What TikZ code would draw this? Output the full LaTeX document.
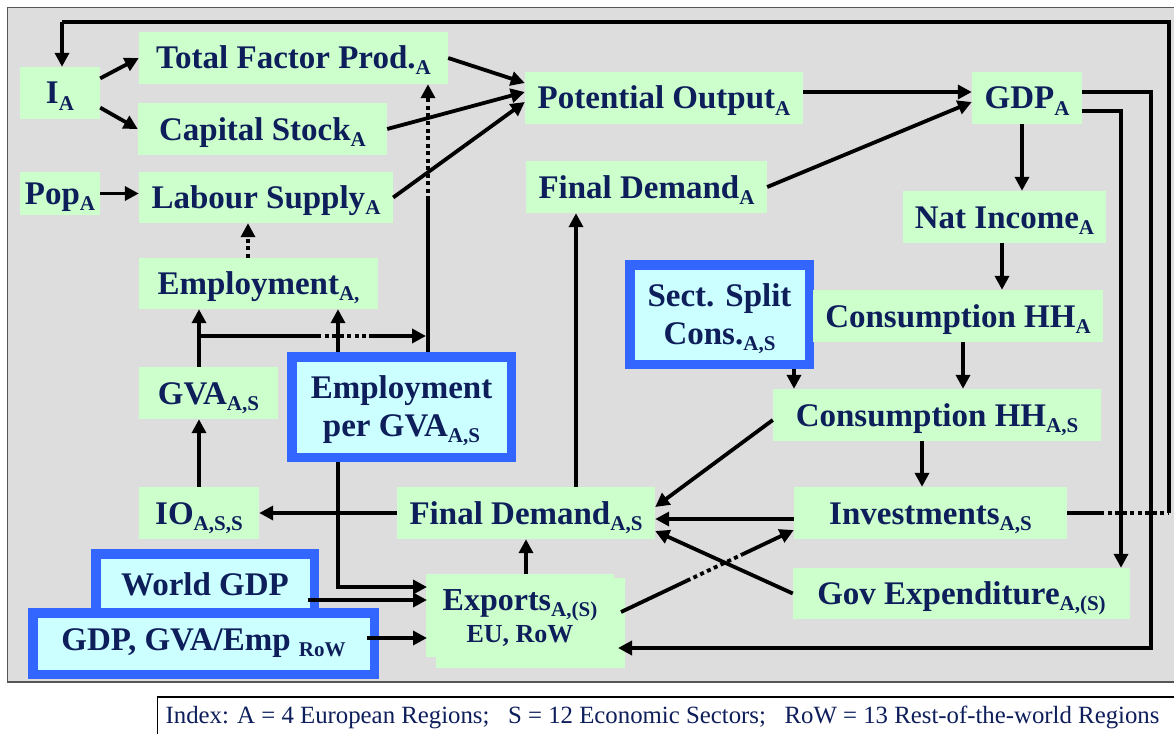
\documentclass[tikz,border=0pt]{standalone}
\usepackage{fontspec}
\setmainfont{Liberation Serif}
\usetikzlibrary{arrows.meta,calc}
\definecolor{navy}{HTML}{0D1E5B}
\definecolor{boxgreen}{HTML}{CCFFCC}
\definecolor{boxcyan}{HTML}{CCFFFF}
\definecolor{frameblue}{HTML}{3366FF}
\definecolor{panelgray}{HTML}{DDDDDD}
\definecolor{paneledge}{HTML}{555555}
% index subscript, kept out of the line's height and depth
\newcommand\ix[1]{\raisebox{-6pt}[0pt][0pt]{\fontsize{21}{21}\selectfont #1}}
\newcommand\bxfont{\fontsize{33}{38}\selectfont\bfseries}
\begin{document}
\begin{tikzpicture}[x=1pt,y=-1pt,
  gbox/.style={fill=boxgreen, text=navy, font=\bxfont, inner sep=0pt, align=center,
               text height=23pt, text depth=1pt},
  exbox/.style={fill=boxgreen, inner sep=0pt},
  bbox/.style={draw=frameblue, line width=9.5pt, fill=boxcyan, text=navy, font=\bxfont,
               inner sep=0pt, outer sep=4.75pt, align=center},
  link/.style={line width=3.8pt, draw=black},
  arr/.style={link, -{Triangle[length=14pt,width=14pt]}},
  dots/.style={link, dash pattern=on 4pt off 3.5pt},
  darr/.style={arr, dash pattern=on 4pt off 3.5pt}]
\useasboundingbox (0,0) rectangle (1174,733);

% background panel
\draw[fill=panelgray, draw=paneledge, line width=1.5pt] (7.5,7.5) rectangle (1185,682);

% legend (its right and bottom sides run past the page edge)
\node[draw=black, line width=1.2pt, fill=white, minimum height=40,
      inner xsep=8pt, inner ysep=0pt, text=navy,
      font=\fontsize{24.8}{26}\selectfont, anchor=west]
  (legend) at (157,717)
  {Index: A = 4 European Regions;~~~S = 12 Economic Sectors;~~~RoW = 13 Rest-of-the-world Regions\rule{40pt}{0pt}};

% model blocks
\node[gbox, minimum width=80,  minimum height=52] (ia)   at (60,93)      {I\ix{A}};
\node[gbox, minimum width=309, minimum height=52] (tfp)  at (293.5,58)   {Total Factor Prod.\ix{A}};
\node[gbox, minimum width=249, minimum height=52] (cap)  at (262.5,129)  {Capital Stock\ix{A}};
\node[gbox, minimum width=80,  minimum height=43] (pop)  at (60,193.5)   {Pop\ix{A}};
\node[gbox, minimum width=254, minimum height=51] (lab)  at (266,197.5)  {Labour Supply\ix{A}};
\node[gbox, minimum width=239, minimum height=51] (emp)  at (258.5,283.5){Employment\ix{A,}};
\node[gbox, minimum width=139, minimum height=52] (gva)  at (208.5,393)  {GVA\ix{A,S}};
\node[bbox, minimum width=219.5, minimum height=100.5] (epg) at (401.5,407)
  {\rule{0pt}{29pt}Employment\\per GVA\ix{A,S}};
\node[gbox, minimum width=120, minimum height=52] (io)   at (199,513)    {IO\ix{A,S,S}};
\node[gbox, minimum width=258, minimum height=52] (fdas) at (526,513)    {Final Demand\ix{A,S}};
\node[bbox, minimum width=218.5, minimum height=61.5] (wgdp) at (205,584.5) {World GDP};
\node[bbox, minimum width=341.5, minimum height=61.5] (gg)   at (203.5,643.5) {GDP, GVA/Emp \ix{RoW}};
\node[exbox, minimum width=189, minimum height=90] (exf)  at (530.5,623)  {};
\node[exbox, minimum width=188, minimum height=83, align=center, text=navy,
      font=\fontsize{32}{32}\selectfont\bfseries]
  (exb) at (520,615.5) {\rule{0pt}{26pt}Exports\ix{A,(S)}\\{\fontsize{26}{32}\selectfont EU, RoW}};
\node[gbox, minimum width=278, minimum height=52] (po)   at (664,98)     {Potential Output\ix{A}};
\node[gbox, minimum width=110, minimum height=52] (gdp)  at (1027,98)    {GDP\ix{A}};
\node[gbox, minimum width=241, minimum height=52] (fda)  at (646.5,187)  {Final Demand\ix{A}};
\node[gbox, minimum width=203, minimum height=52] (nat)  at (1004.5,217) {Nat Income\ix{A}};
\node[bbox, minimum width=179.5, minimum height=99.5] (sect) at (719.5,314.5) {Sect. Split\\Cons.\ix{A,S}};
\node[gbox, minimum width=290, minimum height=52] (hha)  at (958,316)    {Consumption HH\ix{A}};
\node[gbox, minimum width=328, minimum height=52] (hhas) at (937,415)    {Consumption HH\ix{A,S}};
\node[gbox, minimum width=273, minimum height=52] (inv)  at (930.5,513)  {Investments\ix{A,S}};
\node[gbox, minimum width=337, minimum height=51] (gov)  at (961.5,593.5){Gov Expenditure\ix{A,(S)}};

% routing guides
\coordinate (x199) at (199,0);
\coordinate (x248) at (248,0);
\coordinate (x338) at (338,0);
\coordinate (x526) at (526,0);
\coordinate (x576) at (576,0);
\coordinate (x794) at (794,0);
\coordinate (x922) at (922,0);
\coordinate (x963) at (963,0);
\coordinate (x1002) at (1002,0);
\coordinate (x1022) at (1022,0);
\coordinate (y92) at (0,92);
\coordinate (y519) at (0,519);
\coordinate (y530) at (0,530);
\coordinate (topR) at (1169,22);
\coordinate (topL) at (62,22);
\coordinate (invDot) at (1100,513);
\coordinate (v1) at (428,200);
\coordinate (v2) at (428,100);
\coordinate (h1) at (199,336);
\coordinate (h2) at (317,336);
\coordinate (h3) at (369,336);
\coordinate (h4) at (426,336);
\coordinate (epgBend) at (338,587);
\coordinate (exIn1) at (427,587);
\coordinate (exIn2) at (427,600);
\coordinate (exIn3) at (427,638);
\coordinate (wgdpOut) at (308,600);
\coordinate (ggOut) at (367,638);
\coordinate (b1) at (1151,92);
\coordinate (b2) at (1151,648);
\coordinate (exR) at (618,648);
\coordinate (c1) at (1121,111);
\coordinate (e1) at (621,612);

% investment feedback to I
\draw[link] (inv.east) -- (invDot);
\draw[dots] (invDot) -- (invDot -| topR);
\draw[link] (invDot -| topR) -- (topR) -- (topL);
\draw[arr] (topL) -- (topL |- ia.north);

% supply side
\draw[arr] (ia.20) -- (tfp.west);
\draw[arr] (ia.-20) -- (cap.west);
\draw[arr] (pop.east) -- (pop.east -| lab.west);
\draw[arr] (tfp.east) -- ([yshift=15pt]po.west);
\draw[arr] (cap.east) -- ([yshift=6pt]po.west);
\draw[arr] (lab.east) -- ([yshift=-4pt]po.west);
\draw[darr] (emp.north -| x248) -- (lab.south -| x248);
\draw[arr] (gva.north -| x199) -- (emp.south -| x199);
\draw[link] (h1) -- (h2);
\draw[dots] (h2) -- (h3);
\draw[arr] (h3) -- (h4);
\draw[arr] (epg.north -| x338) -- (emp.south -| x338);
\draw[link] (epg.north -| v1) -- (v1);
\draw[dots] (v1) -- (v2);
\draw[arr] (v2) -- (tfp.south -| v2);
\draw[arr] (io.north -| x199) -- (gva.south -| x199);

% demand side
\draw[arr] (fdas.west) -- (io.east);
\draw[arr] (epg.south -| x338) -- (epgBend) -- (exIn1);
\draw[arr] (wgdpOut) -- (exIn2);
\draw[arr] (ggOut) -- (exIn3);
\draw[arr] (exb.north -| x526) -- (fdas.south -| x526);
\draw[arr] (fdas.north -| x576) -- (fda.south -| x576);
\draw[arr] (fda.east) -- ([yshift=-4pt]gdp.west);
\draw[arr] (po.east |- y92) -- (gdp.west |- y92);
\draw[arr] (gdp.south -| x1022) -- (nat.north -| x1022);
\draw[arr] (nat.south -| x1002) -- (hha.north -| x1002);
\draw[arr] (hha.south -| x963) -- (hhas.north -| x963);
\draw[arr] (sect.south -| x794) -- (hhas.north -| x794);
\draw[arr] ([yshift=-5pt]hhas.west) -- ([yshift=6pt]fdas.east);
\draw[arr] (hhas.south -| x922) -- (inv.north -| x922);
\draw[arr] (inv.west |- y519) -- (fdas.east |- y519);
\draw[arr] (gov.west) -- ([yshift=-18pt]fdas.east);
\draw[link] (e1) -- ($(e1)!0.38!(inv.west |- y530)$);
\draw[dots] ($(e1)!0.38!(inv.west |- y530)$) -- ($(e1)!0.70!(inv.west |- y530)$);
\draw[arr] ($(e1)!0.70!(inv.west |- y530)$) -- (inv.west |- y530);
\draw[arr] (gdp.east |- b1) -- (b1) -- (b2) -- (exR);
\draw[arr] (gdp.east |- c1) -- (c1) -- (c1 |- gov.north);
\end{tikzpicture}
\end{document}
